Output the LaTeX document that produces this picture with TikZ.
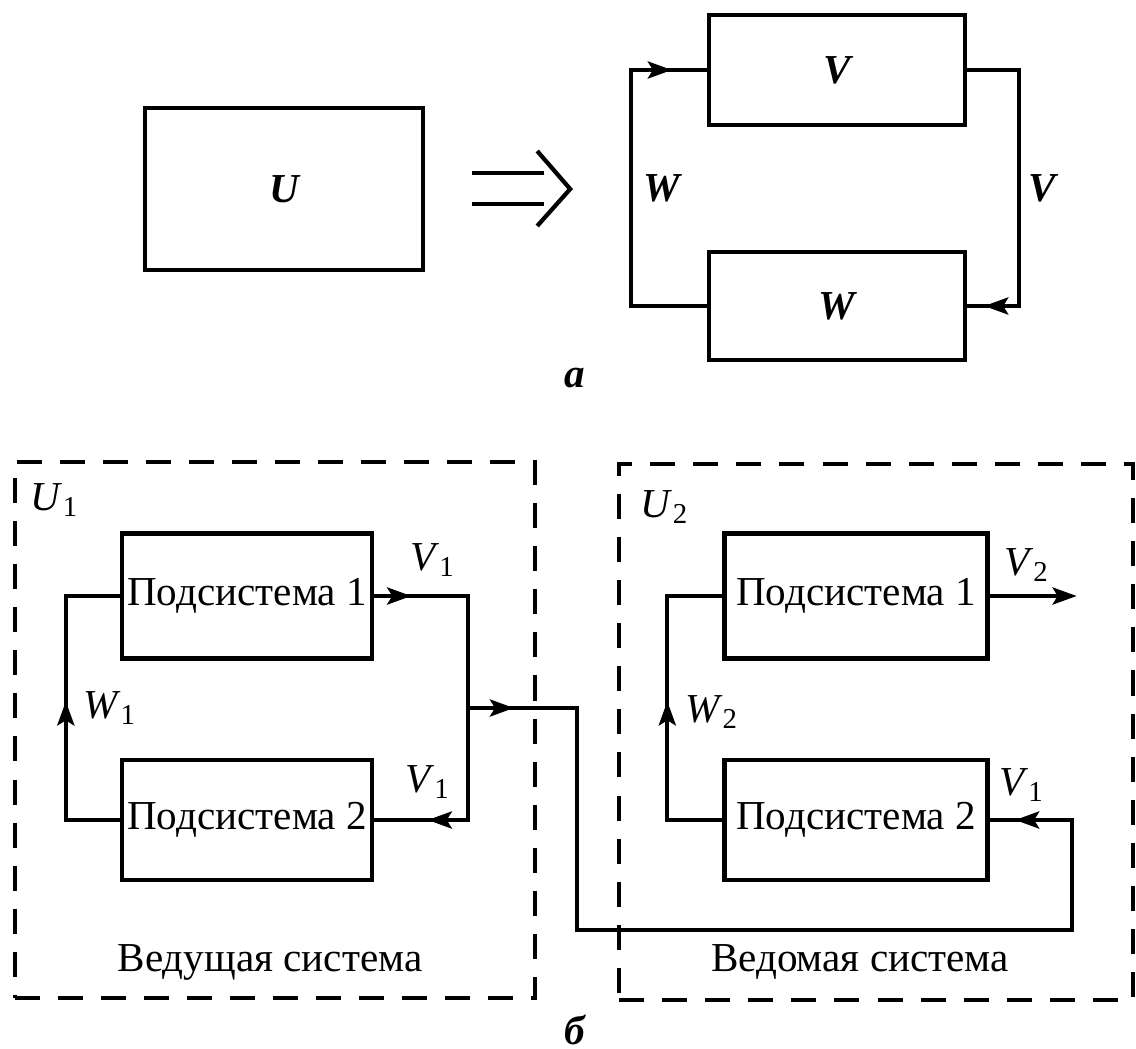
\documentclass[tikz,border=0pt]{standalone}
\usepackage{fontspec}
\setmainfont{Liberation Serif}
\usetikzlibrary{arrows.meta,positioning,calc,decorations.markings}
\newcommand{\sig}[2]{\textit{#1}\textsubscript{#2}}

\begin{document}
\fontsize{11.7}{14}\selectfont
\begin{tikzpicture}[x=0.01cm,y=-0.01cm,
  line width=1.2pt,
  >={Stealth[length=0.24cm,width=0.17cm,inset=0.05cm]},
  blk/.style={draw,inner sep=0pt,minimum width=2.56cm,minimum height=1.1cm,
              font=\bfseries\itshape},
  sub/.style={draw,inner sep=0pt,minimum width=2.5cm,minimum height=1.25cm},
  grp/.style={draw,dash pattern=on 0.25cm off 0.18cm,inner sep=0pt,
              minimum width=5.2cm,minimum height=5.35cm},
  bi/.style={font=\bfseries\itshape},
  arr/.style={postaction={decorate,decoration={markings,
              mark=at position #1 with {\arrow{>}}}}},
]
\useasboundingbox (0,0) rectangle (1136,1048);

% ---------- TOP: one system U as a loop of V and W ----------
\node[blk,minimum width=2.78cm,minimum height=1.62cm] (Ub) at (284,189) {U};
\node[blk] (Vb) at (837,70) {V};
\node[blk,minimum height=1.08cm] (Wb) at (837,306) {W};

\coordinate (ia) at ($(Ub.east)+(47,0)$);
\draw (ia)+(0,-16) -- +(72,-16);
\draw (ia)+(0,15) -- +(72,15);
\draw[line join=miter] (ia)+(65,-38) -- +(98,0) -- +(65,37);

\draw[arr=0.91] (Wb.west) -- ++(-76,0) |- (Vb.west);
\draw[arr=0.95] (Vb.east) -- ++(52,0) |- (Wb.east);
\node[bi] (lw) at (662,188) {W};
\node[bi] (lv) at (1042,188) {V};
\node[bi] (ca) at (575,378) {а};

% ---------- BOTTOM: driving and driven systems ----------
\node[grp] (G1) at (275,730) {};
\node[grp,minimum width=5.13cm] (G2) at (876,732) {};
\node (u1) at (55,500) {\sig{U}{1}};
\node (u2) at (665,507) {\sig{U}{2}};

\node[sub] (L1) at (247,596) {Подсистема 1};
\node[sub,minimum height=1.2cm] (L2) at (247,820) {Подсистема 2};
\node[sub,minimum width=2.63cm] (R1) at (856,596) {Подсистема 1};
\node[sub,minimum width=2.63cm,minimum height=1.2cm] (R2) at (856,820) {Подсистема 2};

\draw[arr=0.52] (L2.west) -- ++(-54,0) |- (L1.west);
\draw[arr=0.09,arr=0.87] (L1.east) -- ++(94,0) |- (L2.east);
\coordinate (jn) at ($(L1.east)!0.5!(L2.east)+(94,0)$);
\draw[arr=0.045,arr=0.975] (jn) -- ++(109,0) -- ++(0,222)
  -| ($(R2.east)+(82,0)$) -- (R2.east);
\draw[arr=0.52] (R2.west) -- ++(-55,0) |- (R1.west);
\draw[->] (R1.east) -- ++(87,0);

\node (v1a) at (433,560) {\sig{V}{1}};
\node (v1b) at (428,782) {\sig{V}{1}};
\node (w1) at (110,708) {\sig{W}{1}};
\node (w2) at (712,712) {\sig{W}{2}};
\node (v2) at (1027,565) {\sig{V}{2}};
\node (v1c) at (1022,785) {\sig{V}{1}};

\node (t1) at (270,962) {Ведущая система};
\node (t2) at (860,962) {Ведомая система};
\node[bi] (cb) at (575,1030) {б};
\end{tikzpicture}
\end{document}
